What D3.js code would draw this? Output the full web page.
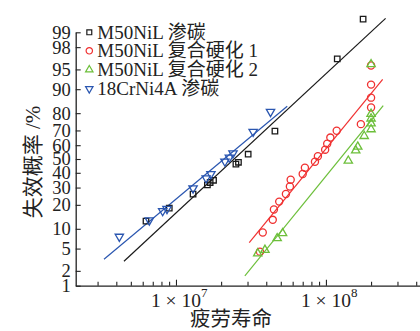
<!DOCTYPE html>
<html><head><meta charset="utf-8">
<script src="https://cdn.jsdelivr.net/npm/d3@7"></script>
<style>
html,body{margin:0;padding:0;background:#fff;}
svg{display:block;}
text{font-family:"Liberation Serif","Noto Sans CJK SC",serif;fill:#222;}
</style></head>
<body>
<svg id="chart" width="420" height="331"></svg>
<script>
// ---- data ----
const seriesNames = ["M50NiL 渗碳", "M50NiL 复合硬化 1", "M50NiL 复合硬化 2", "18CrNi4A 渗碳"];

const blackLife = [6.31e6, 9.02e6, 1.30e7, 1.62e7, 1.69e7, 1.78e7, 2.51e7, 2.61e7, 3.03e7, 4.57e7, 1.19e8, 1.77e8];
const blackProb = [12.7, 18.3, 25.9, 31.7, 33.3, 34.8, 46.2, 47.6, 53.5, 69.6, 96.7, 99.49];

const redLife = [3.63e7, 3.79e7, 4.42e7, 4.50e7, 4.88e7, 5.41e7, 5.75e7, 5.82e7, 7.0e7, 7.24e7, 8.45e7, 8.84e7, 9.88e7, 1.02e8, 1.07e8, 1.18e8, 1.71e8, 2.0e8, 2.0e8, 2.0e8, 2.0e8];
const redProb = [4.45, 8.87, 13.2, 17.7, 21.7, 26.0, 30.7, 35.2, 39.2, 43.6, 48.0, 52.0, 56.8, 61.1, 65.3, 69.8, 73.9, 82.8, 87.0, 91.4, 95.7];

const greenLife = [3.51e7, 3.92e7, 4.73e7, 5.14e7, 1.41e8, 1.58e8, 1.63e8, 1.80e8, 2.0e8, 2.0e8, 2.0e8, 2.0e8, 2.0e8];
const greenProb = [4.15, 4.75, 7.28, 8.64, 48.7, 56.2, 58.9, 66.3, 70.7, 74.3, 77.1, 79.6, 95.9];

const blueLife = [4.19e6, 6.64e6, 8.15e6, 8.71e6, 1.30e7, 1.59e7, 1.71e7, 2.12e7, 2.27e7, 2.40e7, 3.27e7, 4.27e7];
const blueProb = [7.7, 13.0, 17.0, 18.0, 29.5, 36.2, 39.2, 48.2, 51.1, 54.2, 69.2, 80.7];

// fitted lines: endpoints (life, probability %)
const blackFitLife = [4.50e6, 2.50e8], blackFitProb = [3.03, 99.51];
const redFitLife = [3.08e7, 2.39e8], redFitProb = [6.23, 92.8];
const greenFitLife = [2.88e7, 2.41e8], greenFitProb = [1.59, 83.6];
const blueFitLife = [3.31e6, 5.52e7], blueFitProb = [3.29, 83.4];

const yTickLabels = [1, 2, 5, 10, 20, 30, 40, 50, 60, 70, 80, 90, 95, 98, 99];
const xMajorTicks = [1e7, 1e8];
const xMinorTicks = [3e6, 4e6, 5e6, 6e6, 7e6, 8e6, 9e6, 2e7, 3e7, 4e7, 5e7, 6e7, 7e7, 8e7, 9e7, 2e8, 3e8, 4e8];
const xMajorExp = ["7", "8"];

// ---- probit ----
function probit(p) {
  const a=[-3.969683028665376e+01,2.209460984245205e+02,-2.759285104469687e+02,1.383577518672690e+02,-3.066479806614716e+01,2.506628277459239e+00];
  const b=[-5.447609879822406e+01,1.615858368580409e+02,-1.556989798598866e+02,6.680131188771972e+01,-1.328068155288572e+01];
  const c=[-7.784894002430293e-03,-3.223964580411365e-01,-2.400758277161838e+00,-2.549732539343734e+00,4.374664141464968e+00,2.938163982698783e+00];
  const d=[7.784695709041462e-03,3.224671290700398e-01,2.445134137142996e+00,3.754408661907416e+00];
  const pl=0.02425, ph=1-pl;
  if (p < pl) { const q=Math.sqrt(-2*Math.log(p)); return (((((c[0]*q+c[1])*q+c[2])*q+c[3])*q+c[4])*q+c[5])/((((d[0]*q+d[1])*q+d[2])*q+d[3])*q+1); }
  if (p <= ph) { const q=p-0.5, r=q*q; return (((((a[0]*r+a[1])*r+a[2])*r+a[3])*r+a[4])*r+a[5])*q/(((((b[0]*r+b[1])*r+b[2])*r+b[3])*r+b[4])*r+1); }
  const q=Math.sqrt(-2*Math.log(1-p)); return -(((((c[0]*q+c[1])*q+c[2])*q+c[3])*q+c[4])*q+c[5])/((((d[0]*q+d[1])*q+d[2])*q+d[3])*q+1);
}

const svg = d3.select("#chart");
const x = d3.scaleLog().domain([2.144e6, 4.24e8]).range([75.7, 420]);
const yLin = d3.scaleLinear().domain([probit(0.01), probit(0.99)]).range([285.7, 32.3]);
const y = pct => yLin(probit(pct / 100));

// ---- axes ----
const yAxis = d3.axisLeft(yLin)
  .tickValues(yTickLabels.map(v => probit(v / 100)))
  .tickFormat((d, i) => yTickLabels[i])
  .tickSizeInner(-5).tickSizeOuter(0).tickPadding(5);
const gy = svg.append("g").attr("transform", "translate(75.7,0)").call(yAxis);
gy.select(".domain").attr("stroke", "#222").attr("stroke-width", 1.3);
gy.selectAll(".tick line").attr("stroke", "#222").attr("stroke-width", 1.1);
gy.selectAll(".tick text").attr("font-size", 18.5).attr("font-family", "Liberation Serif").attr("fill", "#222");

const gxMinor = svg.append("g").attr("transform", "translate(0,285.7)")
  .call(d3.axisBottom(x).tickValues(xMinorTicks).tickFormat(() => "").tickSizeInner(-4).tickSizeOuter(0));
gxMinor.select(".domain").attr("stroke", "#222").attr("stroke-width", 1.3);
gxMinor.selectAll(".tick line").attr("stroke", "#222").attr("stroke-width", 1.1);
const gxMajor = svg.append("g").attr("transform", "translate(0,285.7)")
  .call(d3.axisBottom(x).tickValues(xMajorTicks).tickFormat(() => "").tickSizeInner(-6).tickSizeOuter(0));
gxMajor.select(".domain").remove();
gxMajor.selectAll(".tick line").attr("stroke", "#222").attr("stroke-width", 1.1);

const xl = svg.append("g").selectAll("g").data(xMajorTicks).join("g")
  .attr("transform", d => `translate(${x(d)},306.5)`);
xl.append("text").attr("text-anchor", "middle").attr("font-size", 19.5).text("1 × 10");
xl.append("text").attr("x", 25).attr("y", -9.5).attr("font-size", 13).text((d, i) => xMajorExp[i]);

svg.append("text").attr("x", 231).attr("y", 326).attr("text-anchor", "middle")
  .attr("font-size", 20.5).attr("font-family", "Noto Sans CJK SC").text("疲劳寿命");
svg.append("text").attr("transform", "translate(40,162) rotate(-90)").attr("text-anchor", "middle")
  .attr("font-size", 21).text("失效概率 /%");

// ---- fitted lines ----
const colors = ["#1a1a1a", "#f03030", "#6cbf3a", "#2a56b0"];
const fits = [[blackFitLife, blackFitProb], [redFitLife, redFitProb], [greenFitLife, greenFitProb], [blueFitLife, blueFitProb]];
const line = d3.line().x(d => x(d[0])).y(d => y(d[1]));
fits.forEach((f, i) => {
  svg.append("path").attr("d", line(d3.zip(f[0], f[1]))).attr("fill", "none")
    .attr("stroke", colors[i]).attr("stroke-width", 1.2);
});

// ---- markers ----
const symbols = [
  {type: d3.symbolSquare, size: 30, rot: 0},
  {type: d3.symbolCircle, size: 40, rot: 0},
  {type: d3.symbolTriangle, size: 30, rot: 0},
  {type: d3.symbolTriangle, size: 30, rot: 180}
];
const pts = [[blackLife, blackProb], [redLife, redProb], [greenLife, greenProb], [blueLife, blueProb]];
pts.forEach((s, i) => {
  const sym = d3.symbol().type(symbols[i].type).size(symbols[i].size);
  svg.append("g").selectAll("path").data(d3.zip(s[0], s[1])).join("path")
    .attr("d", sym)
    .attr("transform", d => `translate(${x(d[0])},${y(d[1])}) rotate(${symbols[i].rot})`)
    .attr("fill", "none").attr("stroke", colors[i]).attr("stroke-width", 1.3);
});

// ---- legend ----
const legY = [32.3, 50.8, 69.8, 88.8];
const lg = svg.append("g").selectAll("g").data(seriesNames).join("g")
  .attr("transform", (d, i) => `translate(89.3,${legY[i]})`);
lg.append("path")
  .attr("d", (d, i) => d3.symbol().type(symbols[i].type).size(symbols[i].size * 0.8)())
  .attr("transform", (d, i) => `rotate(${symbols[i].rot})`)
  .attr("fill", "none").attr("stroke", (d, i) => colors[i]).attr("stroke-width", 1.2);
lg.append("text").attr("x", 8).attr("y", 6.5).attr("font-size", 19).text(d => d);
</script>
</body></html>
